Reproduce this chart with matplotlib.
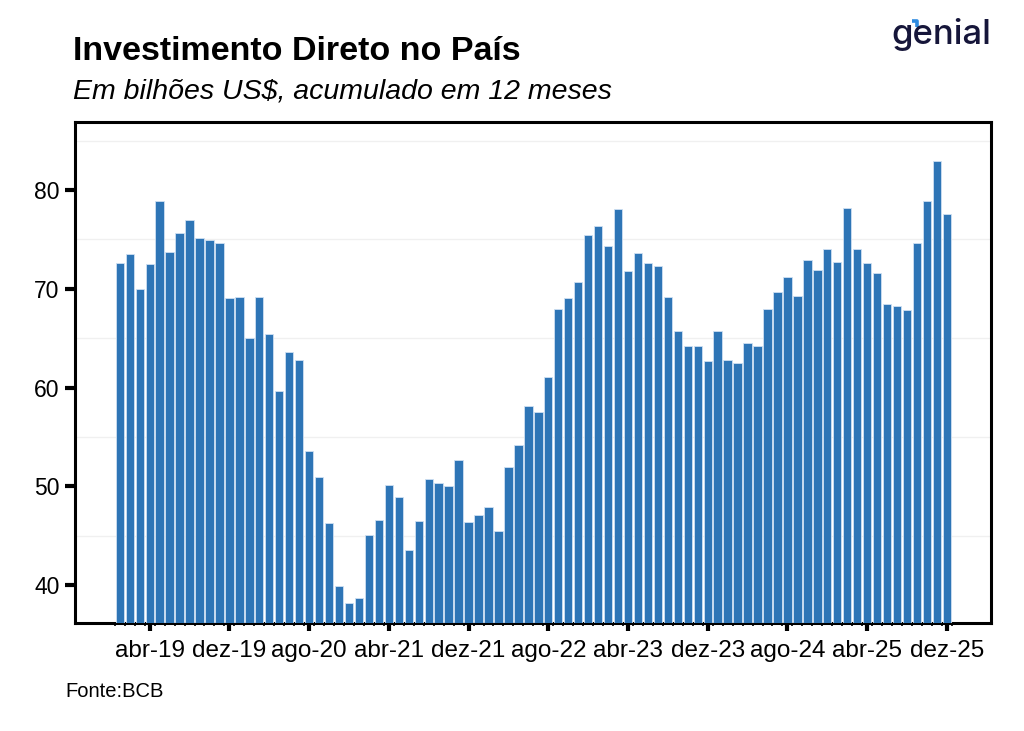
import matplotlib
matplotlib.use("Agg")
import matplotlib.pyplot as plt
from matplotlib.ticker import FixedLocator, MultipleLocator
from matplotlib.lines import Line2D

plt.rcParams['font.family'] = ['Liberation Sans', 'DejaVu Sans']

months_pt = ['jan', 'fev', 'mar', 'abr', 'mai', 'jun', 'jul', 'ago', 'set', 'out', 'nov', 'dez']
years = [19, 20, 21, 22, 23, 24, 25]
categories = [f"{m}-{y}" for y in years for m in months_pt]

values = [
    # 2019
    72.6, 73.5, 70.0, 72.5, 78.9, 73.7, 75.7, 77.0, 75.1, 74.9, 74.6, 69.1,
    # 2020
    69.2, 65.0, 69.2, 65.4, 59.7, 63.6, 62.8, 53.6, 50.9, 46.3, 39.9, 38.2,
    # 2021
    38.7, 45.1, 46.6, 50.1, 48.9, 43.5, 46.5, 50.7, 50.3, 50.0, 52.7, 46.4,
    # 2022
    47.1, 47.9, 45.5, 52.0, 54.2, 58.1, 57.5, 61.1, 68.0, 69.1, 70.7, 75.5,
    # 2023
    76.4, 74.3, 78.1, 71.8, 73.6, 72.6, 72.3, 69.2, 65.7, 64.2, 64.2, 62.7,
    # 2024
    65.7, 62.8, 62.5, 64.5, 64.2, 68.0, 69.7, 71.2, 69.3, 72.9, 71.9, 74.0,
    # 2025
    72.7, 78.2, 74.0, 72.6, 71.6, 68.5, 68.3, 67.9, 74.6, 78.9, 83.0, 77.6,
]

tick_labels = categories[3::8]

fig = plt.figure(figsize=(10.24, 7.31), dpi=100)
ax = fig.add_axes([0.0732, 0.1477, 0.8943, 0.6854])

x = list(range(len(values)))
ax.bar(x, values, width=0.84, color='#2E75B6', edgecolor='#cfe0f2',
       linewidth=0.6, zorder=3)

ax.set_xlim(-4.5, 87.4)
ax.set_ylim(36.15, 86.9)

ax.xaxis.set_major_locator(FixedLocator(x[3::8]))
ax.set_xticklabels(tick_labels)
ax.xaxis.set_minor_locator(FixedLocator([i + 0.5 for i in range(-1, len(values))]))
ax.yaxis.set_major_locator(MultipleLocator(10))
ax.yaxis.set_minor_locator(FixedLocator([45, 55, 65, 75, 85]))

ax.grid(which='minor', axis='y', color='#f0f0f0', linewidth=1.0, zorder=0)
ax.grid(which='major', visible=False)

for s in ax.spines.values():
    s.set_linewidth(2.2)
    s.set_color('black')

ax.tick_params(axis='x', which='major', length=6, width=3, pad=6,
               labelsize=17.5, colors='black')
ax.tick_params(axis='x', which='minor', length=2, width=1.2, direction='out')
ax.tick_params(axis='y', which='major', length=7, width=3, pad=4,
               labelsize=16.5, colors='black')
ax.tick_params(axis='y', which='minor', length=0)

fig.text(0.0713, 0.918, 'Investimento Direto no País', fontsize=24.5,
         fontweight='bold', color='black', ha='left', va='baseline')
fig.text(0.0713, 0.865, 'Em bilhões US$, acumulado em 12 meses', fontsize=20.5,
         fontstyle='italic', color='black', ha='left', va='baseline')
fig.text(0.0635, 0.047, 'Fonte:BCB', fontsize=14.5, color='black',
         ha='left', va='baseline')

# logo
fig.text(0.9685, 0.940, 'genial', fontsize=25, color='#16163a',
         family=['Inter', 'DejaVu Sans'], fontweight='medium',
         ha='right', va='baseline')
fig.add_artist(Line2D([0.8905, 0.8955, 0.8955], [0.9715, 0.9715, 0.9625],
                      transform=fig.transFigure, color='#2E8BE0',
                      linewidth=2.6, solid_capstyle='butt'))

fig.savefig('out.png', dpi=100, facecolor='white')
